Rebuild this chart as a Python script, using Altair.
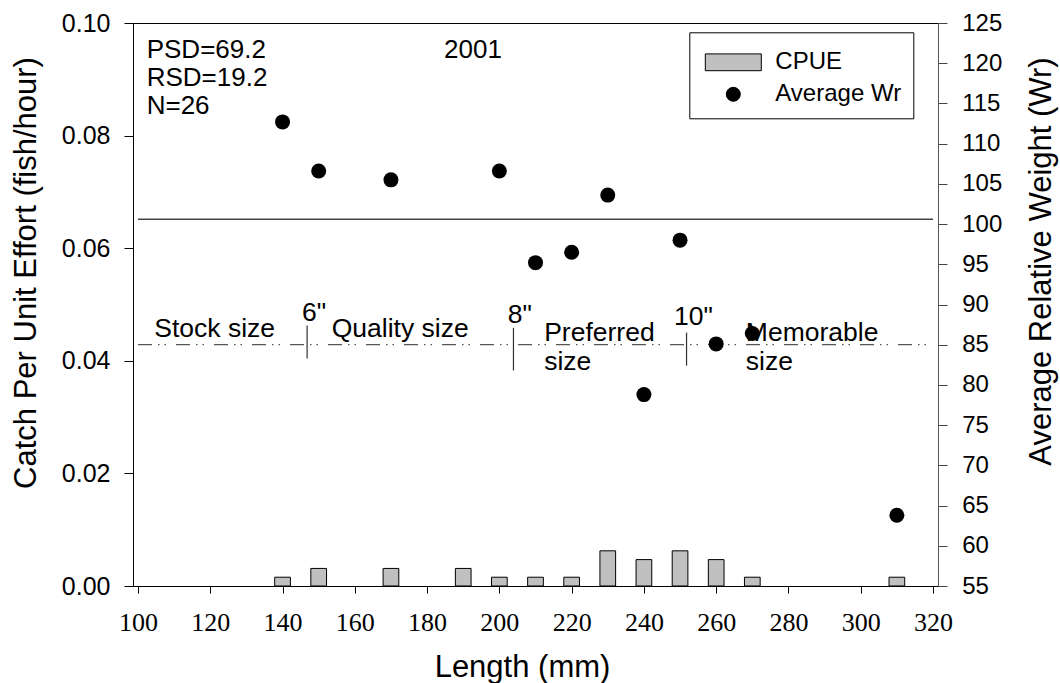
import altair as alt
import pandas as pd

# Catch per unit effort by 10-mm length group
cpue_length = [140, 150, 170, 190, 200, 210, 220, 230, 240, 250, 260, 270, 310]
cpue = [0.00156, 0.00312, 0.00312, 0.00312, 0.00156, 0.00156, 0.00156,
        0.00625, 0.00469, 0.00625, 0.00469, 0.00156, 0.00156]

# Average relative weight by length group
wr_length = [140, 150, 170, 200, 210, 220, 230, 240, 250, 260, 270, 310]
wr_avg = [112.7, 106.6, 105.5, 106.6, 95.2, 96.5, 103.6, 78.8, 98.0, 85.1, 86.4, 63.8]

# Reference lines (right-axis units)
wr_reference = [100.6]
size_line_wr = [85]

# Inch marks separating the length categories
inch_length = [146.8, 203.9, 251.8]
inch_top = [87.4, 87.1, 86.5]
inch_bottom = [83.3, 81.8, 82.4]

# Length-category labels
size_text = ["Stock size", "6\"", "Quality size", "8\"", "Preferred", "size",
             "10\"", "Memorable", "size"]
size_text_x = [104.5, 145.4, 153.6, 202.3, 212.4, 212.4, 248.3, 268.2, 268.2]
size_text_y = [85.9, 87.9, 85.9, 87.7, 85.5, 81.9, 87.5, 85.5, 81.9]

# Summary statistics
stat_text = ["PSD=69.2", "RSD=19.2", "N=26", "2001"]
stat_x = [102.4, 102.4, 102.4, 184.7]
stat_y = [120.7, 117.2, 113.7, 120.7]

SANS = "Liberation Sans"
SERIF = "Liberation Serif"

x_scale = alt.Scale(domain=[100, 320], nice=False, zero=False)
x_axis = alt.Axis(values=list(range(100, 321, 20)), title="Length (mm)",
                  labelFont=SERIF, labelFontSize=26, labelBaseline="alphabetic",
                  labelPadding=37, tickSize=7, tickColor="black",
                  domainColor="black", labelColor="black", grid=False,
                  titleFont=SANS, titleFontSize=31, titleFontWeight="normal",
                  titleColor="black", titleX=389, titleY=90,
                  titleBaseline="alphabetic", titleAlign="center")

wr_scale = alt.Scale(domain=[55, 125], nice=False, zero=False)
wr_axis = alt.Axis(orient="right", values=list(range(55, 126, 5)),
                   title="Average Relative Weight (Wr)",
                   labelFont=SANS, labelFontSize=24, labelPadding=14.7,
                   tickSize=9, tickColor="#444444", domainColor="#555555",
                   labelColor="black", grid=False,
                   titleFont=SANS, titleFontSize=31, titleFontWeight="normal",
                   titleColor="black", titleAngle=270, titleX=112.4, titleY=238,
                   titleBaseline="alphabetic", titleAlign="center")


def X(field):
    return alt.X(field, type="quantitative", scale=x_scale, axis=x_axis)


def YR(field):
    return alt.Y(field, type="quantitative", scale=wr_scale, axis=wr_axis)


cpue_df = pd.DataFrame({"length": cpue_length, "cpue": cpue})
wr_df = pd.DataFrame({"length": wr_length, "wr": wr_avg,
                      "series": ["Average Wr"] * len(wr_length)})
ref_df = pd.DataFrame({"wr": wr_reference, "x0": [100], "x1": [320]})
size_line_df = pd.DataFrame({"wr": size_line_wr, "x0": [100], "x1": [320]})
inch_df = pd.DataFrame({"length": inch_length, "top": inch_top, "bottom": inch_bottom})
size_df = pd.DataFrame({"label": size_text, "length": size_text_x, "wr": size_text_y})
stat_df = pd.DataFrame({"label": stat_text, "length": stat_x, "wr": stat_y})

bars = alt.Chart(cpue_df).mark_bar(
    size=15.7, fill="#c0c0c0", stroke="black", strokeWidth=1
).encode(
    x=X("length"),
    y=alt.Y("cpue", type="quantitative",
            scale=alt.Scale(domain=[0, 0.1], nice=False),
            axis=alt.Axis(orient="left", values=[0, 0.02, 0.04, 0.06, 0.08, 0.10],
                          format=".2f", title="Catch Per Unit Effort (fish/hour)",
                          labelFont=SANS, labelFontSize=25, labelPadding=14,
                          tickSize=9, tickColor="black", domainColor="black",
                          labelColor="black", grid=False,
                          titleFont=SANS, titleFontSize=31, titleFontWeight="normal",
                          titleColor="black", titleAngle=270, titleX=-97.6,
                          titleY=249.5, titleBaseline="alphabetic",
                          titleAlign="center")),
)

ref_line = alt.Chart(ref_df).mark_rule(color="#444444", strokeWidth=1.3).encode(
    x=X("x0"), x2="x1", y=YR("wr")
)

size_line = alt.Chart(size_line_df).mark_rule(
    color="#555555", strokeWidth=1.2, strokeDash=[14, 6, 1.5, 5, 1.5, 10]
).encode(x=X("x0"), x2="x1", y=YR("wr"))

inch_marks = alt.Chart(inch_df).mark_rule(color="#333333", strokeWidth=1.2).encode(
    x=X("length"), y=YR("top"), y2="bottom"
)

size_labels = alt.Chart(size_df).mark_text(
    font=SANS, fontSize=26.5, align="left", baseline="alphabetic", color="black"
).encode(x=X("length"), y=YR("wr"), text="label")

stat_labels = alt.Chart(stat_df).mark_text(
    font=SANS, fontSize=26, align="left", baseline="alphabetic", color="black"
).encode(x=X("length"), y=YR("wr"), text="label")

legend = alt.Legend(title=" ", titleFontSize=1, titlePadding=5,
                    orient="none", legendX=556.3, legendY=9.3,
                    direction="vertical", strokeColor="black", fillColor="white",
                    padding=12, symbolSize=196, symbolOffset=20, labelOffset=30,
                    labelFont=SANS, labelFontSize=24, labelColor="black",
                    symbolStrokeColor="black", symbolStrokeWidth=1,
                    rowPadding=8, labelLimit=400)
series_domain = ["CPUE", "Average Wr"]

points = alt.Chart(wr_df).mark_point(
    filled=True, size=225, opacity=1
).encode(
    x=X("length"),
    y=YR("wr"),
    color=alt.Color("series:N", scale=alt.Scale(domain=series_domain,
                                                range=["#c0c0c0", "black"]),
                    legend=legend),
    shape=alt.Shape("series:N", scale=alt.Scale(domain=series_domain,
                                                range=["M-4,-1.2H4V1.2H-4Z", "circle"]),
                    legend=legend),
)

right = alt.layer(ref_line, size_line, inch_marks, size_labels, stat_labels, points)

chart = alt.layer(bars, right).resolve_scale(y="independent").properties(
    width=805, height=563,
    autosize="none",
    padding={"left": 133, "top": 23, "right": 122, "bottom": 97},
    background="white",
).configure_view(stroke="black", strokeWidth=1)

chart.save("out.html", embed_options={"renderer": "svg", "actions": False})
